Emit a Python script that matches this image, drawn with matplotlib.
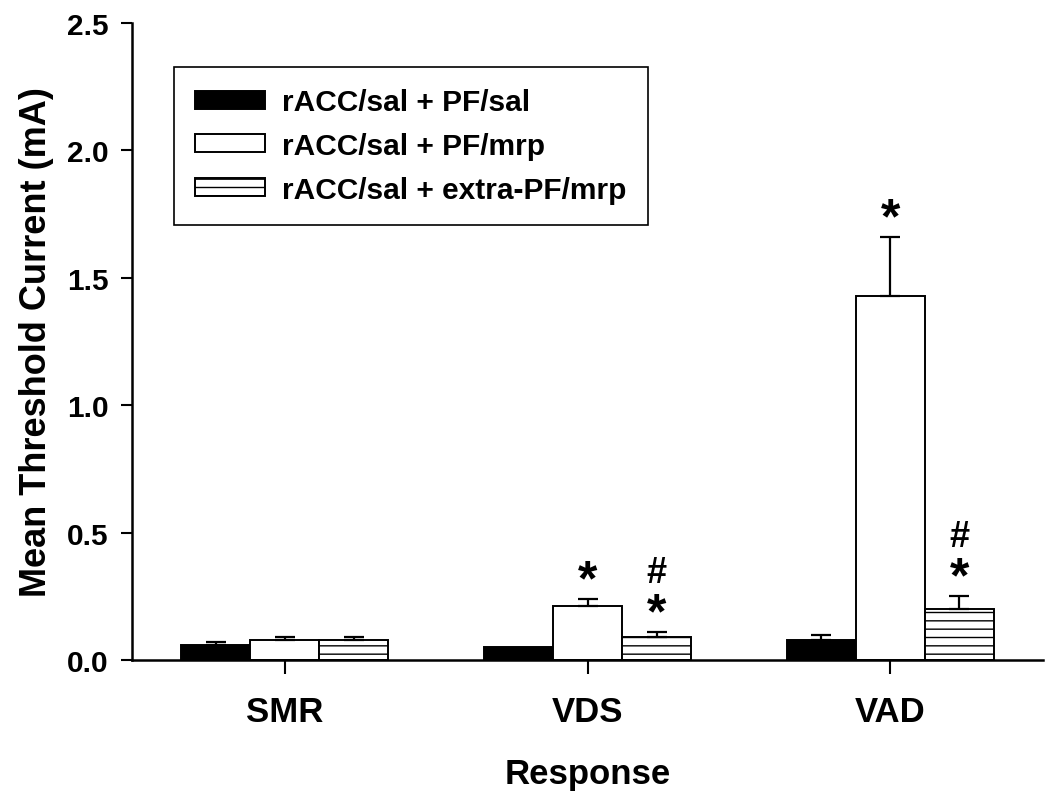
import matplotlib
import numpy as np

matplotlib.use("Agg")
import matplotlib.pyplot as plt

plt.rcParams["font.family"] = ["Liberation Sans", "DejaVu Sans"]
plt.rcParams["font.weight"] = "bold"
plt.rcParams["hatch.linewidth"] = 1.0

responses = ["SMR", "VDS", "VAD"]
series_labels = ["rACC/sal + PF/sal", "rACC/sal + PF/mrp", "rACC/sal + extra-PF/mrp"]
means = [
    [0.06, 0.05, 0.08],
    [0.08, 0.21, 1.43],
    [0.08, 0.09, 0.20],
]
sems = [
    [0.01, 0.0, 0.02],
    [0.01, 0.03, 0.23],
    [0.01, 0.02, 0.05],
]
# significance marks: (series index, response index, text)
marks = [
    (1, 1, "*"),
    (2, 1, "*"),
    (2, 1, "#"),
    (1, 2, "*"),
    (2, 2, "*"),
    (2, 2, "#"),
]

fig = plt.figure(figsize=(10.5, 8.04), dpi=100)
ax = fig.add_axes([132 / 1050, 1 - 661 / 804, 911 / 1050, 637 / 804])

x = np.arange(len(responses))
width = 0.228
styles = [
    dict(color="black", edgecolor="black"),
    dict(color="white", edgecolor="black"),
    dict(color="white", edgecolor="black", hatch="--"),
]
for i, (vals, errs, style, label) in enumerate(zip(means, sems, styles, series_labels)):
    pos = x + (i - 1) * width
    ax.bar(pos, vals, width, linewidth=1.4, label=label, zorder=2, **style)
    for p, v, e in zip(pos, vals, errs):
        if e > 0:
            ax.errorbar(p, v, yerr=[[0], [e]], fmt="none", ecolor="black",
                        elinewidth=1.6, capsize=7.5, capthick=1.6, zorder=3)

for i, j, sym in marks:
    p = x[j] + (i - 1) * width
    top = means[i][j] + sems[i][j]
    if sym == "*":
        ax.text(p, top + 0.07, sym, ha="center", va="center", fontsize=36, fontweight="bold")
    else:
        ax.text(p, top + 0.235, sym, ha="center", va="center", fontsize=26, fontweight="bold")

ax.set_xlim(-0.505, 2.505)
ax.set_ylim(0, 2.5)
ax.set_yticks([0.0, 0.5, 1.0, 1.5, 2.0, 2.5])
ax.set_yticklabels(["0.0", "0.5", "1.0", "1.5", "2.0", "2.5"])
ax.set_xticks(x)
ax.set_xticklabels(responses)
ax.tick_params(axis="y", direction="out", length=8, width=1.5, labelsize=21.5, pad=9)
ax.tick_params(axis="x", direction="out", length=10, width=1.5, labelsize=25, pad=15)
for s in ("top", "right"):
    ax.spines[s].set_visible(False)
for s in ("left", "bottom"):
    ax.spines[s].set_linewidth(1.8)

ax.set_xlabel("Response", fontsize=25, fontweight="bold", labelpad=21)
ax.set_ylabel("Mean Threshold Current (mA)", fontsize=26, fontweight="bold", labelpad=9)

leg = ax.legend(loc="upper left", bbox_to_anchor=(0.046, 0.931), fontsize=21.5,
                frameon=True, fancybox=False, edgecolor="black", framealpha=1,
                handlelength=2.34, handleheight=0.55, labelspacing=0.52,
                borderpad=0.72, handletextpad=0.55, borderaxespad=0)
leg.get_frame().set_linewidth(1.2)

fig.savefig("out.png", dpi=100)
